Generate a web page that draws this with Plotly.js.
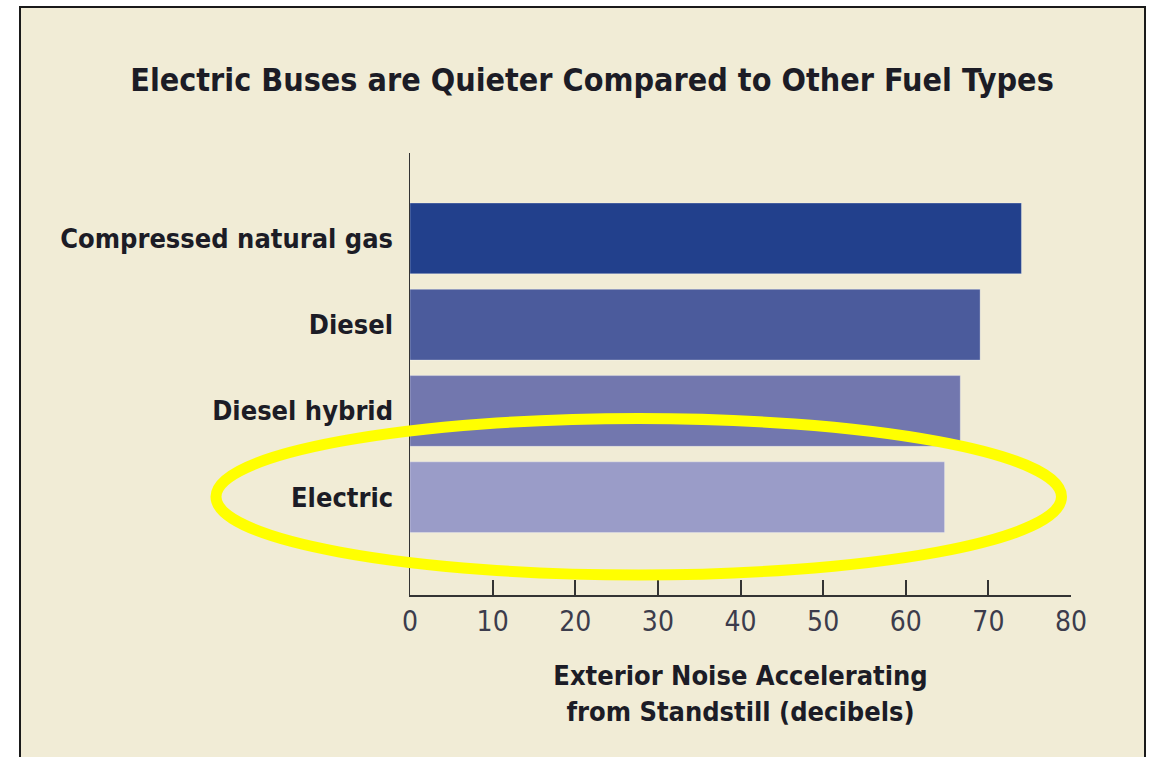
<!DOCTYPE html>
<html>
<head>
<meta charset="utf-8">
<script src="https://cdn.plot.ly/plotly-3.0.1.min.js"></script>
<style>
  html, body { margin: 0; padding: 0; background: #ffffff; }
  #chart { width: 1152px; height: 757px; }
</style>
</head>
<body>
<div id="chart"></div>
<script>
// ---- data ----
const fuelTypes = ["Compressed natural gas", "Diesel", "Diesel hybrid", "Electric"];
const noiseDb = [74, 69, 66.6, 64.7];
const xTickValues = [0, 10, 20, 30, 40, 50, 60, 70, 80];
const barColors = ["#22408c", "#4b5b9c", "#7277ae", "#9a9cc8"];

const chartTitle = "Electric Buses are Quieter Compared to Other Fuel Types";
const xAxisTitle = "Exterior Noise Accelerating<br>from Standstill (decibels)";

// ---- layout helpers (plot area in pixels) ----
const W = 1152, H = 757;
const plotL = 410, plotR = 1071, plotT = 153, plotB = 595;
const px2x = p => (p - plotL) / (plotR - plotL);
const py2y = p => (plotB - p) / (plotB - plotT);

const condensed = '"DejaVu Sans Condensed", "Liberation Sans Narrow", sans-serif';

const trace = {
  type: "bar",
  orientation: "h",
  y: fuelTypes,
  x: noiseDb,
  width: 0.82,
  marker: { color: barColors, line: { color: "rgba(255,255,255,0.3)", width: 1 } },
  hoverinfo: "x+y"
};

const layout = {
  width: W, height: H,
  margin: { l: plotL, r: W - plotR, t: plotT, b: H - plotB, pad: 0 },
  paper_bgcolor: "#ffffff",
  plot_bgcolor: "rgba(0,0,0,0)",
  showlegend: false,
  title: {
    text: "<b>" + chartTitle + "</b>",
    x: 592 / W, xanchor: "center",
    y: 1 - 80 / H, yanchor: "middle",
    font: { family: condensed, size: 32, color: "#1c1c26" }
  },
  xaxis: {
    range: [0, 80],
    tickmode: "array",
    tickvals: xTickValues,
    ticks: "inside",
    ticklen: 15,
    tickwidth: 2,
    tickcolor: "#333333",
    showline: true,
    linecolor: "#333333",
    linewidth: 2,
    showgrid: false,
    zeroline: false,
    ticklabelstandoff: 0,
    tickfont: { family: condensed, size: 28, color: "#3c3c4c" },
    title: {
      text: "<b>" + xAxisTitle.replace("<br>", "</b><br><b>") + "</b>",
      standoff: 30,
      font: { family: condensed, size: 27, color: "#1c1c26" }
    }
  },
  yaxis: {
    type: "category",
    categoryorder: "array",
    categoryarray: fuelTypes,
    range: [4.133, -0.99],
    showline: true,
    linecolor: "#333333",
    linewidth: 1.5,
    ticks: "",
    showgrid: false,
    zeroline: false,
    ticklabelstandoff: 10,
    tickfont: { family: condensed, size: 27, color: "#1c1c26", weight: "bold" }
  },
  shapes: [
    {
      type: "rect", layer: "below", xref: "paper", yref: "paper",
      x0: px2x(20), x1: px2x(1145), y0: py2y(775), y1: py2y(7),
      fillcolor: "#f1ecd6", line: { color: "#1a1a1a", width: 2 }
    },
    {
      type: "circle", layer: "above", xref: "paper", yref: "paper",
      x0: px2x(216), x1: px2x(1061.5), y0: py2y(575), y1: py2y(418.5),
      fillcolor: "rgba(0,0,0,0)", line: { color: "#ffff00", width: 11 }
    }
  ]
};

Plotly.newPlot("chart", [trace], layout, { displayModeBar: false, staticPlot: true });
</script>
</body>
</html>
